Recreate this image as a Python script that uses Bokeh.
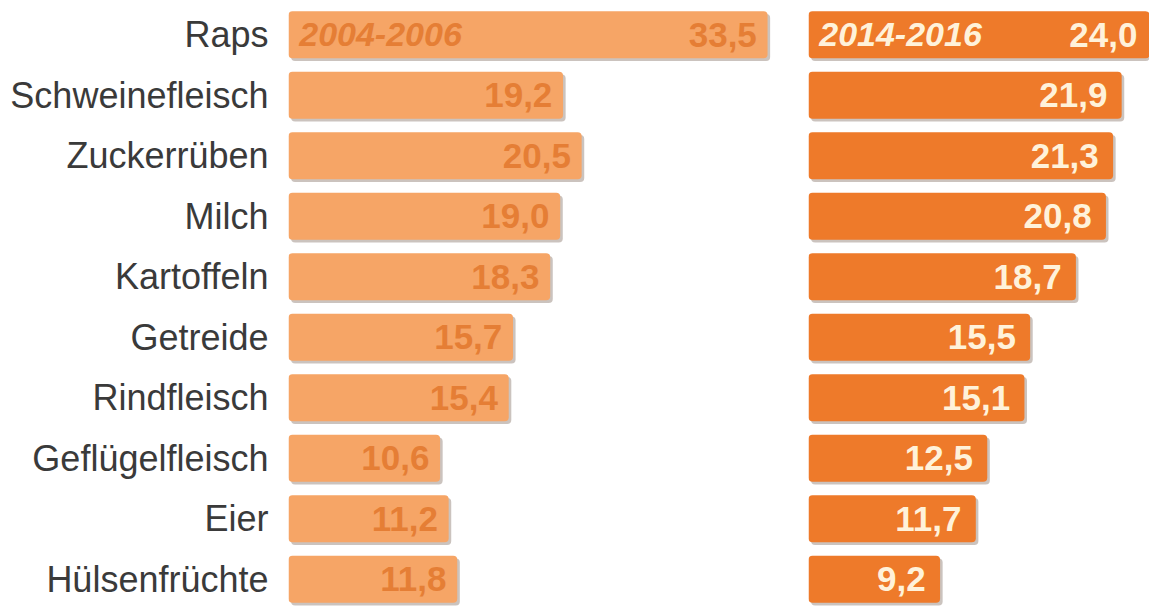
from bokeh.plotting import figure
from bokeh.layouts import row
from bokeh.models import ColumnDataSource, Range1d, FactorRange
from bokeh.transform import dodge
from bokeh.core.properties import value
from bokeh.embed import file_html
from bokeh.resources import INLINE

categories = ["Raps", "Schweinefleisch", "Zuckerrüben", "Milch", "Kartoffeln",
              "Getreide", "Rindfleisch", "Geflügelfleisch", "Eier", "Hülsenfrüchte"]
values_2004_2006 = [33.5, 19.2, 20.5, 19.0, 18.3, 15.7, 15.4, 10.6, 11.2, 11.8]
values_2014_2016 = [24.0, 21.9, 21.3, 20.8, 18.7, 15.5, 15.1, 12.5, 11.7, 9.2]
period_labels = ["2004-2006", "2014-2016"]

def fmt(v):
    return f"{v:.1f}".replace(".", ",")

PX_PER_UNIT = 14.3
FONT = "Liberation Sans"
y_range = FactorRange(factors=list(reversed(categories)), range_padding=0)

def make_panel(vals, period, width, border_left, bar_color, text_color, with_axis, pad):
    frame_w = width - border_left
    p = figure(width=width, height=609, y_range=y_range,
               x_range=Range1d(0, frame_w / PX_PER_UNIT),
               output_backend="svg", toolbar_location=None,
               min_border_left=border_left, min_border_right=0,
               min_border_top=4, min_border_bottom=0,
               background_fill_color="white", border_fill_color="white",
               outline_line_color=None)
    src = ColumnDataSource(dict(cat=categories, val=vals,
                                sval=[v + 0.18 for v in vals],
                                lab=[fmt(v) for v in vals],
                                labx=[v - pad for v in vals]))
    # shadow
    p.hbar(y=dodge("cat", -0.045, range=y_range), left=0.18, right="sval",
           height=0.78, source=src, fill_color="#8c7a6e", fill_alpha=0.45,
           line_color=None, border_radius=4)
    p.hbar(y="cat", left=0, right="val", height=0.78, source=src,
           fill_color=bar_color, line_color=None, border_radius=4)
    p.text(x="labx", y="cat", text="lab", source=src, text_align="right",
           text_baseline="middle", text_font=value(FONT),
           text_font_style="bold", text_font_size="35px", text_color=text_color)
    p.text(x=[0.75], y=[categories[0]], text=[period], text_align="left",
           text_baseline="middle", text_font=value(FONT),
           text_font_style="bold italic", text_font_size="34px",
           text_color=text_color)
    p.xaxis.visible = False
    p.xgrid.visible = False
    p.ygrid.visible = False
    if with_axis:
        ax = p.yaxis[0]
        ax.axis_line_color = None
        ax.major_tick_line_color = None
        ax.minor_tick_line_color = None
        ax.major_tick_in = 0
        ax.major_tick_out = 0
        ax.major_label_standoff = 20
        ax.major_label_text_font = FONT
        ax.major_label_text_font_size = "36px"
        ax.major_label_text_color = "#3a3a3a"
    else:
        p.yaxis.visible = False
    return p

left = make_panel(values_2004_2006, period_labels[0], 785, 288,
                  "#F6A566", "#E57E35", True, 0.75)
right = make_panel(values_2014_2016, period_labels[1], 364, 23,
                   "#EE7A2A", "#FFF2DA", False, 1.0)

layout = row(left, right, spacing=0)
open("out.html", "w").write(file_html(layout, INLINE))
